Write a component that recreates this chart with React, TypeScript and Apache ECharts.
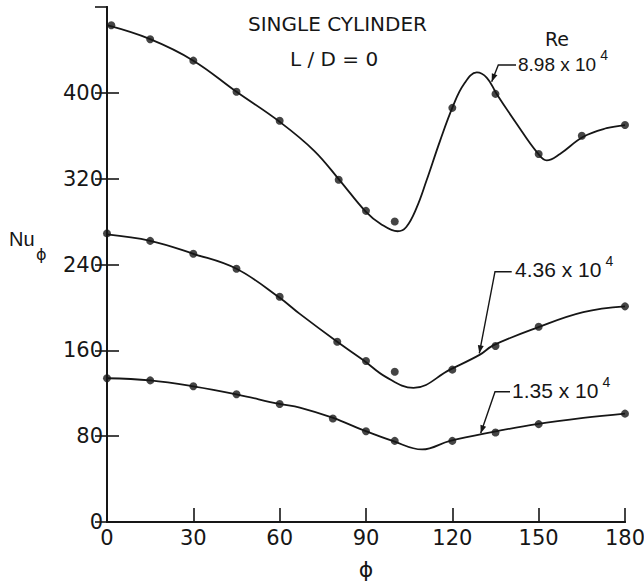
import React, { useEffect, useRef } from "react";
import * as echarts from "echarts";

// Measured data points (phi in degrees, local Nusselt number)
const phiHigh = [1.5, 15, 30, 45, 60, 80.5, 90, 100, 120, 135, 150, 165, 180];
const nuHigh = [463, 450, 430, 401, 374, 319, 290, 280, 386, 399, 343, 360, 370];
const phiMid = [0, 15, 30, 45, 60, 80, 90, 100, 120, 135, 150, 180];
const nuMid = [269, 262, 250, 236, 210, 168, 150, 140, 142, 164, 182, 201];
const phiLow = [0, 15, 30, 45, 60, 78.5, 90, 100, 120, 135, 150, 180];
const nuLow = [134, 132, 126.5, 119, 110, 96.5, 84.6, 75.6, 75.6, 83.4, 91.2, 101];

// Faired curves
const curvePhiHigh = [0, 15, 30, 45, 60, 72, 81, 90, 95, 101, 104, 107.6, 111, 115.7, 120.3, 124, 128.5, 132, 135.4, 142.4, 149.3, 152.8, 157.4, 165.5, 173.6, 180];
const curveNuHigh = [463, 450, 430, 401, 373, 346, 318, 289, 278, 271, 275, 293, 318, 355, 388, 408, 419, 414, 399, 371, 345, 337, 343, 359, 367, 370];
const curvePhiMid = [0, 15, 30, 45, 60, 67, 80, 89, 97, 106.5, 119.2, 129.6, 134.2, 149.3, 165.5, 180];
const curveNuMid = [268, 262, 250, 236, 209, 194, 168, 151, 135, 125, 142, 156, 164.6, 181, 195.6, 201];
const curvePhiLow = [0, 15, 30, 45, 60, 67, 78.6, 89, 99.5, 109.5, 119.2, 134.2, 149.3, 165.5, 180];
const curveNuLow = [134, 132, 126.5, 119, 110, 106.7, 97, 85.6, 75.3, 67.6, 75.6, 84, 91.2, 97, 101];

const reLabels = ["8.98 x 10", "4.36 x 10", "1.35 x 10"];
const reExponent = "4";
const titleLines = ["SINGLE CYLINDER", "L / D = 0"];

const INK = "#161616";

function zip(xs: number[], ys: number[]) {
  return xs.map((x, i) => [x, ys[i]]);
}

function arrowHead(x0: number, y0: number, x1: number, y1: number, len = 8, half = 3) {
  const dx = x1 - x0;
  const dy = y1 - y0;
  const L = Math.hypot(dx, dy);
  const ux = dx / L;
  const uy = dy / L;
  const bx = x1 - ux * len;
  const by = y1 - uy * len;
  return [
    [x1, y1],
    [bx - uy * half, by + ux * half],
    [bx + uy * half, by - ux * half],
  ];
}

function leader(pts: number[][]) {
  const n = pts.length;
  return [
    {
      type: "polyline",
      shape: { points: pts },
      style: { stroke: INK, lineWidth: 1.4, fill: "none" },
      silent: true,
    },
    {
      type: "polygon",
      shape: { points: arrowHead(pts[n - 2][0], pts[n - 2][1], pts[n - 1][0], pts[n - 1][1]) },
      style: { fill: INK },
      silent: true,
    },
  ];
}

function label(text: string, x: number, y: number, size: number, family = "DejaVu Sans") {
  return {
    type: "text",
    x,
    y,
    style: {
      text,
      fill: INK,
      font: `${size}px "${family}"`,
      verticalAlign: "middle",
    },
    silent: true,
  };
}

// label with a superscript exponent right after its end
function powerLabel(text: string, x: number, y: number, size: number, family: string) {
  return {
    type: "text",
    x,
    y,
    style: {
      text: `{m|${text}}{s|${reExponent}}`,
      verticalAlign: "middle",
      rich: {
        m: { fontFamily: family, fontSize: size, fill: INK, color: INK, lineHeight: 26, verticalAlign: "bottom" },
        s: { fontFamily: family, fontSize: 14, fill: INK, color: INK, lineHeight: 26, verticalAlign: "top", padding: [0, 0, 0, 4] },
      },
    },
    silent: true,
  };
}

export default function App() {
  const ref = useRef<HTMLDivElement>(null);
  useEffect(() => {
    if (!ref.current) return;
    const chart = echarts.init(ref.current, undefined, { renderer: "svg" });
    const axisFont = { fontFamily: "DejaVu Sans", fontSize: 21, color: INK };
    const lineSeries = (data: number[][]) => ({
      type: "line",
      data,
      smooth: 0.4,
      showSymbol: false,
      symbol: "none",
      lineStyle: { color: INK, width: 1.8 },
      silent: true,
      z: 2,
    });
    const dotSeries = (data: number[][]) => ({
      type: "scatter",
      data,
      symbol: "circle",
      symbolSize: 8,
      itemStyle: { color: INK },
      silent: true,
      z: 3,
    });
    const annFamily = "Liberation Sans";
    chart.setOption({
      animation: false,
      backgroundColor: "#ffffff",
      grid: { left: 107, right: 19, top: 7, bottom: 61, containLabel: false, outerBoundsMode: "none" },
      xAxis: [
        {
          type: "value",
          min: 0,
          max: 180,
          interval: 30,
          name: "ϕ",
          nameLocation: "middle",
          nameGap: 35,
          nameTextStyle: { fontFamily: "DejaVu Sans", fontSize: 22, color: INK, lineHeight: 24 },
          axisLine: { lineStyle: { color: INK, width: 2 } },
          axisTick: { inside: true, length: 14, lineStyle: { color: INK, width: 1.6 } },
          axisLabel: { ...axisFont, margin: 5 },
          splitLine: { show: false },
        },
        {
          type: "value",
          position: "top",
          min: 0,
          max: 180,
          interval: 30,
          axisLine: { show: true, lineStyle: { color: INK, width: 2 } },
          axisTick: { show: false },
          axisLabel: { show: false },
          splitLine: { show: false },
        },
      ],
      yAxis: [
        {
          type: "value",
          min: 0,
          max: 480,
          interval: 80,
          axisLine: { show: true, lineStyle: { color: INK, width: 2 } },
          axisTick: { show: true, inside: true, length: 12, lineStyle: { color: INK, width: 1.6 } },
          axisLabel: { ...axisFont, margin: 4, showMaxLabel: false },
          splitLine: { show: false },
        },
        {
          type: "value",
          position: "right",
          min: 0,
          max: 480,
          interval: 80,
          axisLine: { show: true, lineStyle: { color: INK, width: 2 } },
          axisTick: { show: true, inside: true, length: 12, lineStyle: { color: INK, width: 1.6 } },
          axisLabel: { show: false },
          splitLine: { show: false },
        },
      ],
      series: [
        lineSeries(zip(curvePhiHigh, curveNuHigh)),
        lineSeries(zip(curvePhiMid, curveNuMid)),
        lineSeries(zip(curvePhiLow, curveNuLow)),
        dotSeries(zip(phiHigh, nuHigh)),
        dotSeries(zip(phiMid, nuMid)),
        dotSeries(zip(phiLow, nuLow)),
      ],
      graphic: [
        label(titleLines[0], 248, 24, 20),
        label(titleLines[1], 290, 59, 20),
        label("Re", 545, 39, 19),
        label("Nu", 9, 239, 20, annFamily),
        label("ϕ", 36, 254, 16),
        powerLabel(reLabels[0], 518, 61, 19, annFamily),
        powerLabel(reLabels[1], 515, 267, 21, annFamily),
        powerLabel(reLabels[2], 512, 388, 21, annFamily),
        ...leader([[516, 65], [498.3, 65], [491.7, 81.7]]),
        ...leader([[511.7, 271.7], [495, 271.7], [479.3, 353.3]]),
        ...leader([[510, 391.7], [495, 391.7], [480.7, 433.3]]),
      ],
    });
    return () => chart.dispose();
  }, []);
  return (
    <div
      ref={ref}
      style={{ position: "absolute", left: 0, top: 0, width: 644, height: 583, background: "#fff" }}
    />
  );
}
